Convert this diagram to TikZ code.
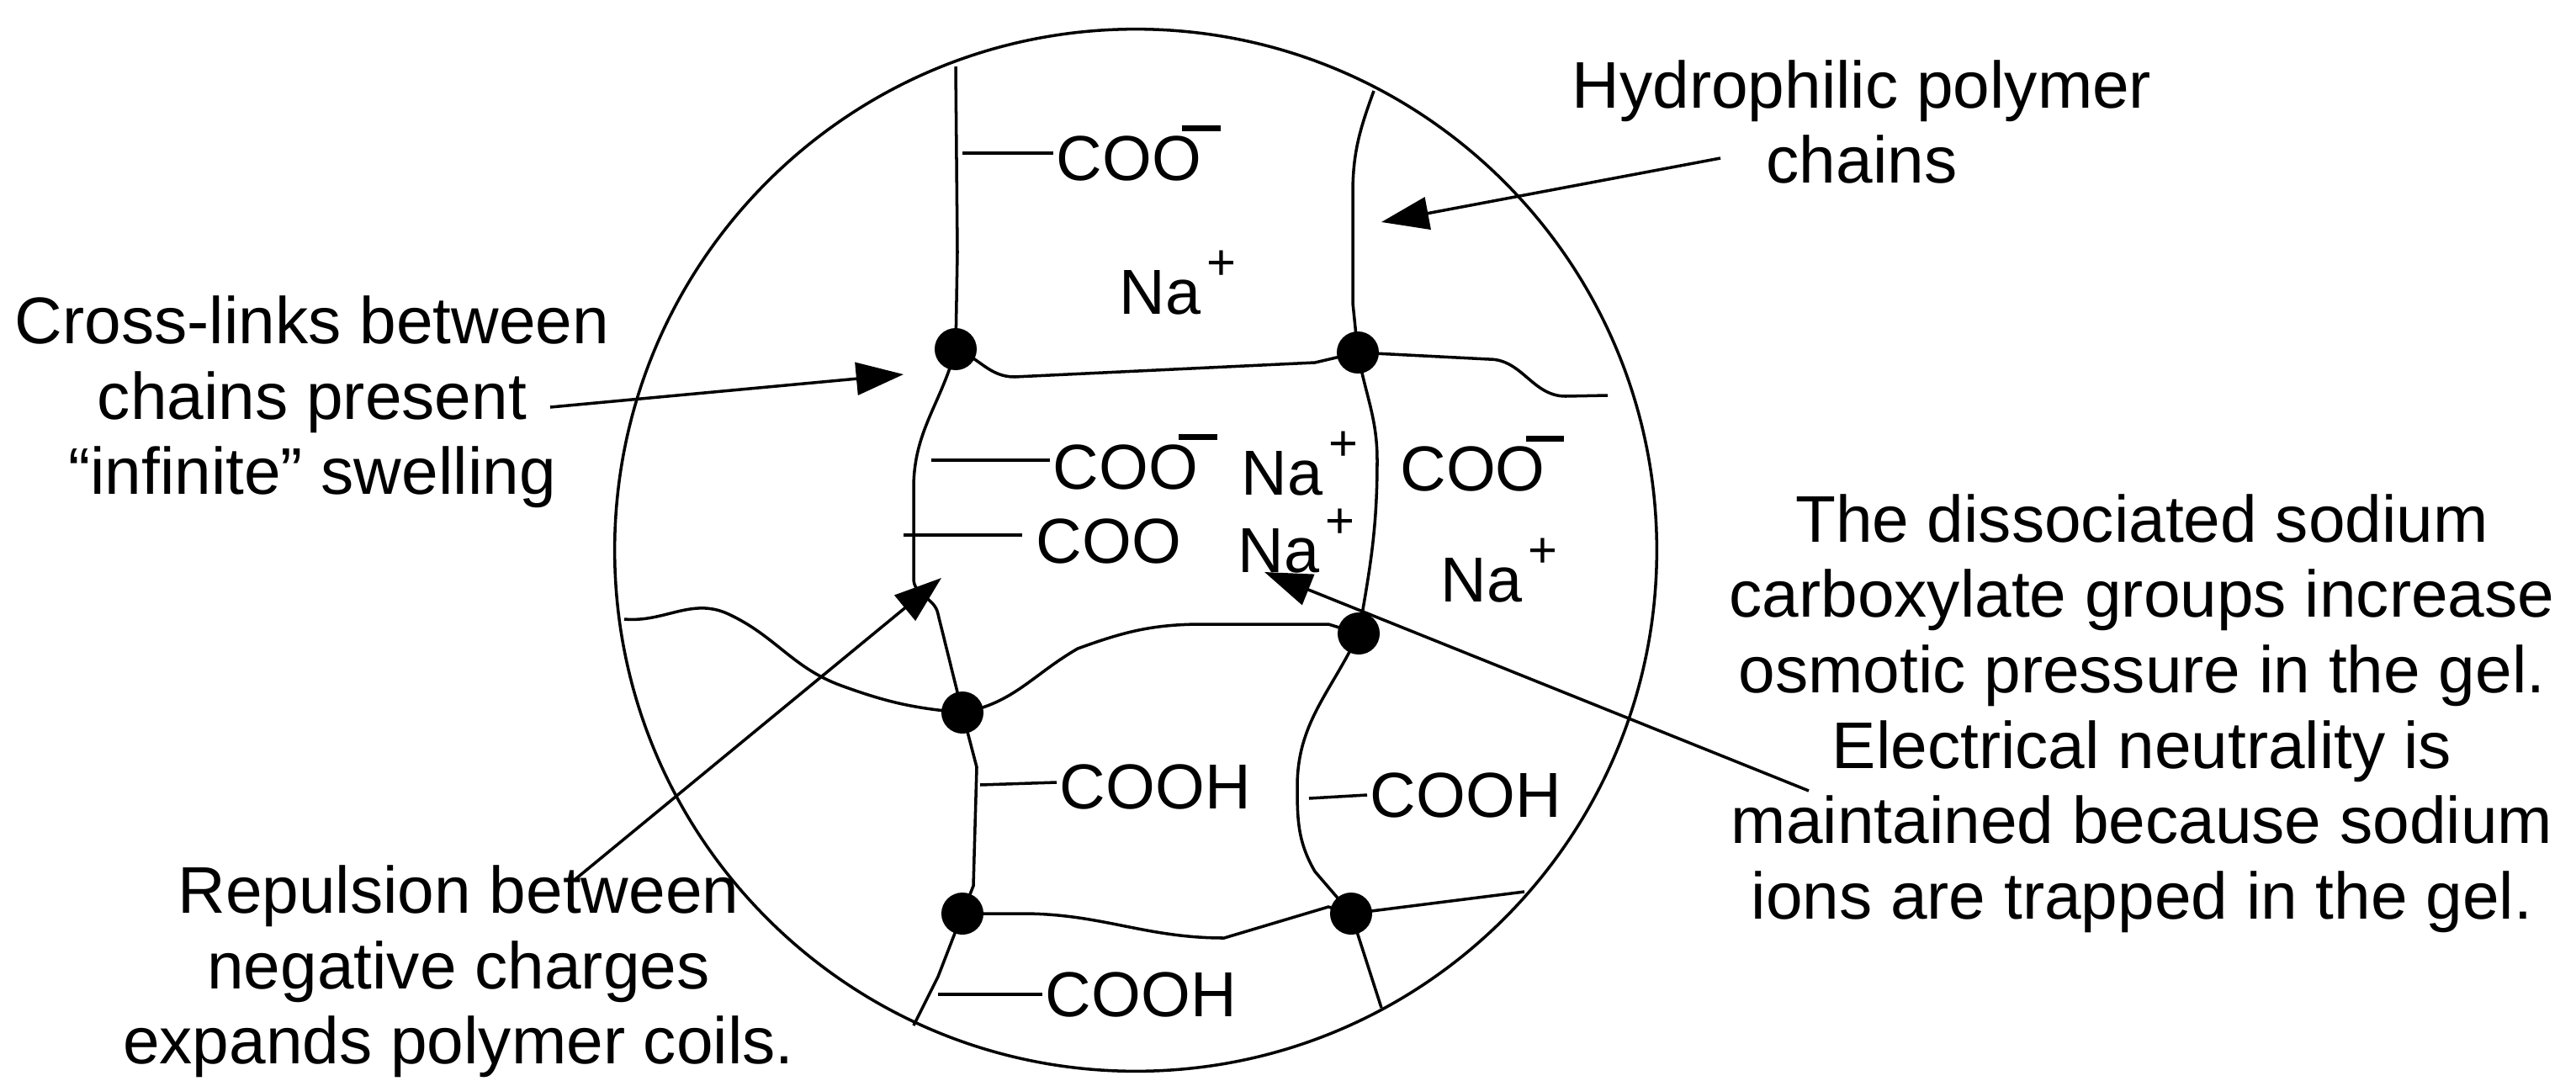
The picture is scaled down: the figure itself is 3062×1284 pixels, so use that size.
\documentclass[tikz,border=0pt]{standalone}
\usepackage{fontspec}
\setmainfont{Liberation Sans}
\usetikzlibrary{arrows.meta}
\newcommand{\coominus}{COO\kern-0.3em\raisebox{0.78em}{\rule{0.6em}{0.09em}}}
\newcommand{\naplus}{Na\kern0.1em\raisebox{0.55em}{\fontsize{17}{17}\selectfont +}}
\begin{document}
\begin{tikzpicture}[x=0.01cm,y=-0.01cm,line width=1pt,
  lab/.style={font=\fontsize{22.3}{25.5}\selectfont,align=center,inner sep=0pt},
  chem/.style={font=\fontsize{21.5}{25}\selectfont,inner sep=0pt},
  dot/.style={circle,fill=black,minimum size=0.5cm,inner sep=0pt},
  arr/.style={-{Triangle[length=16pt,width=11pt]},line width=1pt}]
\useasboundingbox (0,0) rectangle (3062,1284);
\node[circle,draw,minimum size=12.38cm,inner sep=0pt,line width=1pt] (circ) at (1350,654) {};
% dots
\node[dot] (d1) at (1136,415) {};
\node[dot] (d2) at (1614,419) {};
\node[dot] (d3) at (1144,847) {};
\node[dot] (d4) at (1615,753) {};
\node[dot] (d5) at (1144,1086) {};
\node[dot] (d6) at (1606,1086) {};
% chains
\draw (1136,79) -- (1138,300) -- (d1.center);
\draw (1633,108) to[out=-110,in=90] (1608,230) -- (1608,360) -- (d2.center);
\draw (d1.center) to[out=-20,in=180] (1206,448) -- (1563,431) -- (d2.center);
\draw (d2.center) -- (1770,427) to[out=0,in=180] (1861,471) -- (1911,470);
\draw (d1.center) to[out=-105,in=90] (1086,580) -- (1086,688) to[out=-90,in=100] (1115,730) -- (d3.center);
\draw (d2.center) to[out=-80,in=90] (1637,547) to[out=-90,in=80] (d4.center);
\draw (742,736) to[out=-5,in=155] (866,730) to[out=-25,in=160] (1000,815) to[out=-20,in=175] (d3.center);
\draw (d3.center) to[out=10,in=-150] (1281,771) to[out=20,in=180] (1430,742) -- (1579,742) -- (d4.center);
\draw (d4.center) to[out=-115,in=90] (1542,935) to[out=-90,in=120] (1563,1036) -- (d6.center);
\draw (d3.center) -- (1161,912) -- (1157,1053) -- (d5.center);
\draw (d5.center) -- (1215,1086) to[out=0,in=180] (1455,1115) -- (1579,1078) -- (d6.center) -- (1812,1060);
\draw (d5.center) -- (1115,1161) -- (1086,1219);
\draw (d6.center) -- (1642,1198);
% stubs and labels
\draw (1144,182) -- (1252,182);
\node[chem,anchor=west] (c1) at (1254,182) {\coominus};
\node[chem] (na1) at (1400,336) {\naplus};
\draw (1107,547) -- (1248,547);
\node[chem,anchor=west] (c2) at (1250,549) {\coominus};
\node[chem] (na2) at (1545,551) {\naplus};
\node[chem] (c3) at (1762,551) {\coominus};
\draw (1074,636) -- (1215,636);
\node[chem] (c4) at (1318,643) {COO};
\node[chem] (na3) at (1541,643) {\naplus};
\node[chem] (na4) at (1782,678) {\naplus};
\draw (1165,933) -- (1256,930);
\node[chem,anchor=west] (h1) at (1258,935) {COOH};
\draw (1556,949) -- (1625,945);
\node[chem,anchor=west] (h2) at (1627,945) {COOH};
\draw (1115,1182) -- (1239,1182);
\node[chem,anchor=west] (h3) at (1241,1182) {COOH};
% annotations
\node[lab] (t1) at (2213,145) {Hydrophilic polymer\\chains};
\node[lab] (t2) at (371,478) {Cross-links between\\chains present\\“infinite” swelling};
\node[lab] (t3) at (545,1155) {Repulsion between\\negative charges\\expands polymer coils.};
\node[lab] (t4) at (2546,848) {The dissociated sodium\\carboxylate groups increase\\osmotic pressure in the gel.\\Electrical neutrality is\\maintained because sodium\\ions are trapped in the gel.};
\coordinate (a1s) at (2045,188); \coordinate (a1e) at (1642,264);
\coordinate (a2s) at (654,484); \coordinate (a2e) at (1074,445);
\coordinate (a3s) at (684,1045); \coordinate (a3e) at (1119,687);
\coordinate (a4s) at (2150,940); \coordinate (a4e) at (1503,680);
\draw[arr] (a1s) -- (a1e);
\draw[arr] (a2s) -- (a2e);
\draw[arr] (a3s) -- (a3e);
\draw[arr] (a4s) -- (a4e);
\end{tikzpicture}
\end{document}
